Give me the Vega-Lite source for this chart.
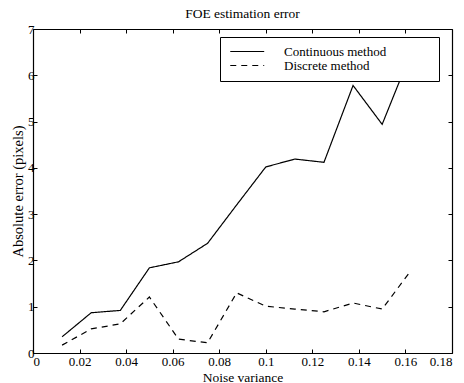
{
  "$schema": "https://vega.github.io/schema/vega-lite/v6.json",
  "width": 419,
  "height": 324,
  "autosize": {"type": "none"},
  "padding": {"left": 33, "top": 29, "right": 12, "bottom": 30},
  "background": "white",
  "title": {"text": "FOE estimation error", "font": "Liberation Serif", "fontSize": 13.5, "fontWeight": "normal", "color": "black", "offset": 3, "anchor": "middle"},
  "config": {
    "view": {"stroke": null},
    "axis": {
      "domainColor": "black", "domainWidth": 1.2, "tickColor": "black", "tickWidth": 1, "tickSize": -4,
      "labelColor": "black", "titleColor": "black", "labelFont": "Liberation Serif", "titleFont": "Liberation Serif",
      "labelFontSize": 13, "titleFontSize": 13.5, "titleFontWeight": "normal", "grid": false, "labelPadding": 6
    }
  },
  "data": {"values": [
    {"x": 0.0125, "y": 0.35, "method": "Continuous method"},
    {"x": 0.025, "y": 0.87, "method": "Continuous method"},
    {"x": 0.0375, "y": 0.92, "method": "Continuous method"},
    {"x": 0.05, "y": 1.84, "method": "Continuous method"},
    {"x": 0.0625, "y": 1.97, "method": "Continuous method"},
    {"x": 0.075, "y": 2.37, "method": "Continuous method"},
    {"x": 0.0875, "y": 3.2, "method": "Continuous method"},
    {"x": 0.1, "y": 4.02, "method": "Continuous method"},
    {"x": 0.1125, "y": 4.19, "method": "Continuous method"},
    {"x": 0.125, "y": 4.12, "method": "Continuous method"},
    {"x": 0.1375, "y": 5.78, "method": "Continuous method"},
    {"x": 0.15, "y": 4.94, "method": "Continuous method"},
    {"x": 0.1625, "y": 6.5, "method": "Continuous method"},
    {"x": 0.0125, "y": 0.17, "method": "Discrete method"},
    {"x": 0.025, "y": 0.52, "method": "Discrete method"},
    {"x": 0.0375, "y": 0.63, "method": "Discrete method"},
    {"x": 0.05, "y": 1.21, "method": "Discrete method"},
    {"x": 0.0625, "y": 0.3, "method": "Discrete method"},
    {"x": 0.075, "y": 0.22, "method": "Discrete method"},
    {"x": 0.0875, "y": 1.3, "method": "Discrete method"},
    {"x": 0.1, "y": 1.01, "method": "Discrete method"},
    {"x": 0.1125, "y": 0.95, "method": "Discrete method"},
    {"x": 0.125, "y": 0.89, "method": "Discrete method"},
    {"x": 0.1375, "y": 1.08, "method": "Discrete method"},
    {"x": 0.15, "y": 0.95, "method": "Discrete method"},
    {"x": 0.1625, "y": 1.79, "method": "Discrete method"}
  ]},
  "layer": [
    {
      "mark": {"type": "line", "color": "black", "strokeWidth": 1.2},
      "encoding": {
        "x": {"field": "x", "type": "quantitative", "scale": {"domain": [0, 0.18], "nice": false},
              "axis": {"orient": "bottom", "values": [0, 0.02, 0.04, 0.06, 0.08, 0.1, 0.12, 0.14, 0.16, 0.18], "format": "~g", "title": "Noise variance", "titlePadding": 2}},
        "y": {"field": "y", "type": "quantitative", "scale": {"domain": [0, 7], "nice": false},
              "axis": {"orient": "left", "values": [0, 1, 2, 3, 4, 5, 6, 7], "title": "Absolute error (pixels)", "titleFontSize": 14.5, "titlePadding": 2, "labelPadding": 3}},
        "strokeDash": {"field": "method", "type": "nominal",
          "scale": {"domain": ["Continuous method", "Discrete method"], "range": [[1, 0], [6, 5]]},
          "legend": {"orient": "none", "legendX": 187, "legendY": 8, "title": " ", "titleOrient": "right", "titlePadding": 45,
                     "fillColor": "white", "strokeColor": "black", "padding": 8, "symbolType": "M-1,0H7", "symbolSize": 72,
                     "symbolStrokeWidth": 1.2, "symbolStrokeColor": "black", "labelOffset": 43, "labelFont": "Liberation Serif",
                     "labelFontSize": 13, "labelColor": "black", "rowPadding": 0}}
      }
    },
    {
      "mark": {"type": "line", "opacity": 0},
      "encoding": {
        "x": {"field": "x", "type": "quantitative", "axis": {"orient": "top", "values": [0, 0.02, 0.04, 0.06, 0.08, 0.1, 0.12, 0.14, 0.16, 0.18], "labels": false, "title": null}},
        "y": {"field": "y", "type": "quantitative", "axis": {"orient": "right", "values": [0, 1, 2, 3, 4, 5, 6, 7], "labels": false, "title": null}}
      }
    }
  ],
  "resolve": {"axis": {"x": "independent", "y": "independent"}}
}
